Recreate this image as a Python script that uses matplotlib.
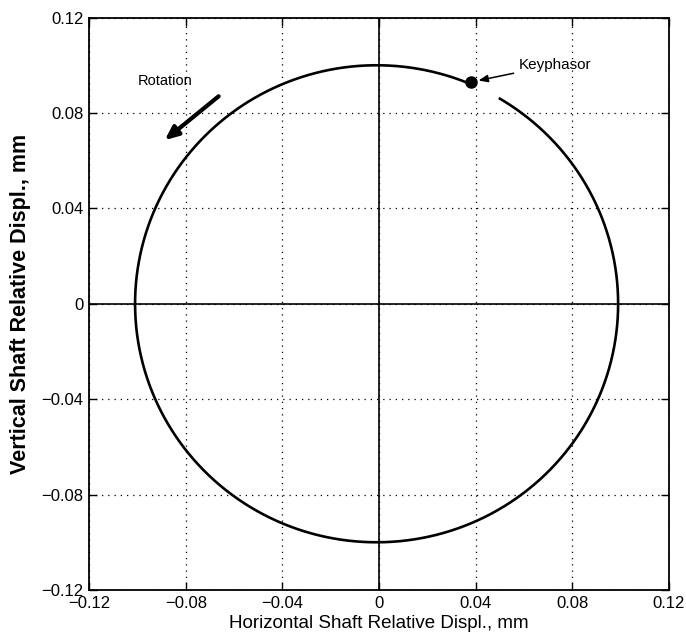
import numpy as np
import matplotlib
matplotlib.use('Agg')
import matplotlib.pyplot as plt

plt.rcParams['font.family'] = ['Liberation Sans', 'DejaVu Sans']

# орбита вала: окружность, разрыв у метки Keyphasor
radius = 0.1
center = (-0.001, 0.0)
start_deg = 67.7      # от метки Keyphasor
end_deg = 419.3       # до начала разрыва
keyphasor = (0.038, 0.0928)
ticks = [-0.12, -0.08, -0.04, 0, 0.04, 0.08, 0.12]
tick_labels = ['\u22120.12', '\u22120.08', '\u22120.04', '0', '0.04', '0.08', '0.12']

theta = np.radians(np.linspace(start_deg, end_deg, 600))
x = center[0] + radius * np.cos(theta)
y = center[1] + radius * np.sin(theta)

fig = plt.figure(figsize=(6.86, 6.41), dpi=100)
ax = fig.add_axes([0.130, 0.0796, 0.845, 0.893])

ax.plot(x, y, color='black', linewidth=1.9, zorder=3)
ax.plot(*keyphasor, 'o', color='black', markersize=8, zorder=4)

ax.axhline(0, color='black', linewidth=1.2, zorder=2)
ax.axvline(0, color='black', linewidth=1.2, zorder=2)

ax.set_xlim(-0.12, 0.12)
ax.set_ylim(-0.12, 0.12)
ax.set_xticks(ticks)
ax.set_yticks(ticks)
ax.set_xticklabels(tick_labels)
ax.set_yticklabels(tick_labels)
ax.tick_params(direction='in', length=6, width=1, labelsize=12,
               top=True, right=True, pad=4)
ax.grid(True, color='black', linestyle=(0, (1, 4)), linewidth=0.9)
for s in ax.spines.values():
    s.set_linewidth(1.3)

ax.set_xlabel('Horizontal Shaft Relative Displ., mm', fontsize=13.5, labelpad=3)
ax.set_ylabel('Vertical Shaft Relative Displ., mm', fontsize=15.5,
              fontweight='bold')
ax.yaxis.set_label_coords(-0.100, 0.5)

# стрелка вращения
ax.annotate('', xy=(-0.0887, 0.0686), xytext=(-0.0664, 0.087),
            arrowprops=dict(arrowstyle='-|>,head_length=0.8,head_width=0.35',
                            color='black', linewidth=3, shrinkA=0, shrinkB=0))
ax.text(-0.0887, 0.0933, 'Rotation', fontsize=10.5, ha='center', va='center')

# метка Keyphasor
ax.annotate('Keyphasor', xy=(0.0412, 0.0936), xytext=(0.058, 0.1003),
            fontsize=11, va='center', ha='left',
            arrowprops=dict(arrowstyle='-|>,head_length=0.5,head_width=0.2',
                            color='black', linewidth=1.1, shrinkA=2, shrinkB=0))

fig.savefig('out.png', dpi=100)
